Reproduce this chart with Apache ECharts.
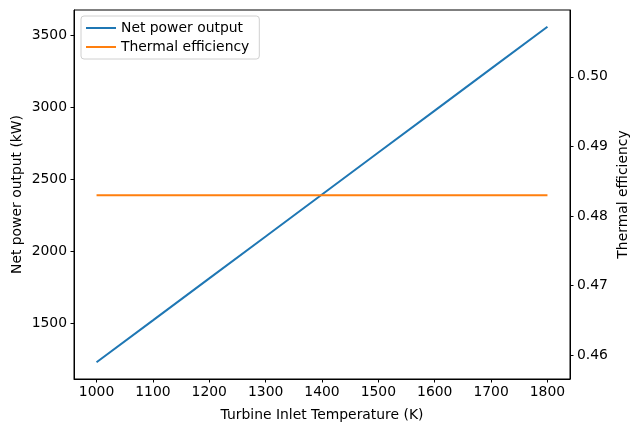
<!DOCTYPE html>
<html>
<head>
<meta charset="utf-8">
<script src="https://cdn.jsdelivr.net/npm/echarts@6/dist/echarts.min.js"></script>
<style>html,body{margin:0;padding:0;background:#fff}#c{width:640px;height:432px}</style>
</head>
<body>
<div id="c"></div>
<script>
const temperatures = [1000, 1100, 1200, 1300, 1400, 1500, 1600, 1700, 1800];
const netPower = [1228, 1519, 1811, 2102, 2394, 2685, 2976, 3268, 3559];
const efficiency = [0.483, 0.483, 0.483, 0.483, 0.483, 0.483, 0.483, 0.483, 0.483];
const xTicks = [1000, 1100, 1200, 1300, 1400, 1500, 1600, 1700, 1800];
const leftTicks = [1500, 2000, 2500, 3000, 3500];
const rightTicks = [0.46, 0.47, 0.48, 0.49, 0.50];

const font = 'DejaVu Sans';
const fs = 13.9;
const chart = echarts.init(document.getElementById('c'), null, {renderer: 'canvas'});
const axisCommon = {
  axisLine: {show: true, lineStyle: {color: '#000', width: 1}},
  axisTick: {show: true, inside: false, length: 3.5, lineStyle: {color: '#000', width: 1}},
  splitLine: {show: false},
  nameMoveOverlap: false,
  nameTextStyle: {fontFamily: font, fontSize: fs, color: '#000'}
};
chart.setOption({
  animation: false,
  backgroundColor: '#fff',
  grid: {left: 74, right: 70, top: 10, bottom: 53, show: true, borderColor: '#000', borderWidth: 1,
    containLabel: false, outerBoundsMode: 'none'},
  legend: {
    orient: 'vertical', left: 81, top: 16,
    itemWidth: 30, itemHeight: 2, itemGap: 5,
    padding: [5, 10, 5, 5],
    icon: 'rect',
    borderColor: '#d0d0d0', borderWidth: 1, borderRadius: 3,
    backgroundColor: 'rgba(255,255,255,0.8)',
    textStyle: {fontFamily: font, fontSize: fs, color: '#000'},
    data: ['Net power output', 'Thermal efficiency']
  },
  xAxis: Object.assign({}, axisCommon, {
    type: 'value', min: 960, max: 1840,
    name: 'Turbine Inlet Temperature (K)', nameLocation: 'middle', nameGap: 29,
    axisTick: Object.assign({}, axisCommon.axisTick, {customValues: xTicks}),
    axisLabel: {customValues: xTicks, margin: 6, fontFamily: font, fontSize: fs, color: '#000',
      formatter: v => String(v)}
  }),
  yAxis: [
    Object.assign({}, axisCommon, {
      type: 'value', min: 1111.5, max: 3675.5, position: 'left',
      name: 'Net power output (kW)', nameLocation: 'middle', nameGap: 50,
      axisTick: Object.assign({}, axisCommon.axisTick, {customValues: leftTicks}),
      axisLabel: {customValues: leftTicks, margin: 7, fontFamily: font, fontSize: fs, color: '#000',
        formatter: v => String(v)}
    }),
    Object.assign({}, axisCommon, {
      type: 'value', min: 0.4566, max: 0.5096, position: 'right',
      name: 'Thermal efficiency', nameLocation: 'middle', nameGap: 46,
      axisTick: Object.assign({}, axisCommon.axisTick, {customValues: rightTicks}),
      axisLabel: {customValues: rightTicks, margin: 7, fontFamily: font, fontSize: fs, color: '#000',
        formatter: v => v.toFixed(2)}
    })
  ],
  series: [
    {name: 'Net power output', type: 'line', yAxisIndex: 0, showSymbol: false, symbol: 'none',
     data: temperatures.map((t, i) => [t, netPower[i]]),
     lineStyle: {color: '#1f77b4', width: 2}, itemStyle: {color: '#1f77b4'}},
    {name: 'Thermal efficiency', type: 'line', yAxisIndex: 1, showSymbol: false, symbol: 'none',
     data: temperatures.map((t, i) => [t, efficiency[i]]),
     lineStyle: {color: '#ff7f0e', width: 2}, itemStyle: {color: '#ff7f0e'}}
  ]
});
</script>
</body>
</html>
